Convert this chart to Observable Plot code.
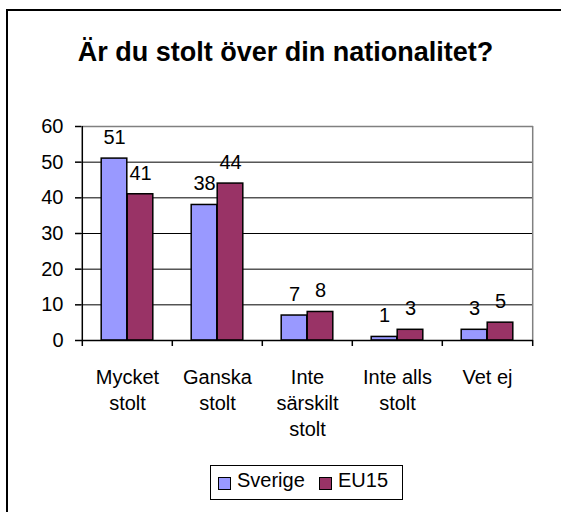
<!DOCTYPE html>
<html><head><meta charset="utf-8">
<script src="https://cdn.jsdelivr.net/npm/d3@7"></script>
<script src="https://cdn.jsdelivr.net/npm/@observablehq/plot@0.6"></script>
<style>
body{margin:0;background:#fff;font-family:"Liberation Sans",Arial,sans-serif;color:#000;}
#wrap{position:relative;width:561px;height:512px;overflow:hidden;background:#fff;}
#frame{position:absolute;left:6px;top:9px;width:700px;height:700px;border-top:2px solid #000;border-left:2px solid #000;}
#title{position:absolute;left:0;width:571px;top:37px;text-align:center;font-weight:bold;font-size:27px;line-height:30px;white-space:nowrap;}
#chart{position:absolute;left:0;top:0;}
#legend{position:absolute;left:210px;top:465px;width:193px;height:35px;border:1px solid #000;box-sizing:border-box;font-size:20px;background:#fff;}
#legend .sw{position:absolute;width:11px;height:11px;border:1px solid #000;top:11px;}
#legend .lb{position:absolute;top:4px;line-height:20px;white-space:nowrap;}
</style>
</head><body>
<div id="wrap">
  <div id="frame"></div>
  <div id="chart"></div>
  <div id="title">Är du stolt över din nationalitet?</div>
  <div id="legend"></div>
</div>
<script>
const categories = ["Mycket stolt", "Ganska stolt", "Inte särskilt stolt", "Inte alls stolt", "Vet ej"];
const tickLabels = ["Mycket\nstolt", "Ganska\nstolt", "Inte\nsärskilt\nstolt", "Inte alls\nstolt", "Vet ej"];
const series = ["Sverige", "EU15"];
const sverige = [51, 38, 7, 1, 3];
const eu15 = [41, 44, 8, 3, 5];
const colors = ["#9999FF", "#993366"];
const yTicks = [0, 10, 20, 30, 40, 50, 60];

const W = 561, H = 512, mL = 81, mR = 28, mT = 126, mB = 172;
const bw = (W - mL - mR) / categories.length;
const barW = 26, gap = (bw - 2 * barW) / 2;

const sv = categories.map((c, i) => ({cat: c, series: series[0], value: sverige[i]}));
const eu = categories.map((c, i) => ({cat: c, series: series[1], value: eu15[i]}));
const last = categories[categories.length - 1];

const chart = Plot.plot({
  width: W, height: H,
  marginLeft: mL, marginRight: mR, marginTop: mT, marginBottom: mB,
  style: {fontFamily: "Liberation Sans, Arial, sans-serif", fontSize: "20px", background: "transparent", color: "#000", overflow: "visible"},
  x: {domain: categories, padding: 0, label: null},
  y: {domain: [0, 60], label: null},
  color: {domain: series, range: colors},
  marks: [
    Plot.ruleY(yTicks.filter(t => t > 0 && t < 60), {stroke: "#000", strokeWidth: 1}),
    Plot.ruleY([60], {stroke: "#808080", strokeWidth: 1.5}),
    Plot.ruleX([last], {dx: bw / 2, stroke: "#808080", strokeWidth: 1.5}),
    Plot.barY(sv, {x: "cat", y: "value", fill: "series", stroke: "#000", strokeWidth: 1.5, insetLeft: gap, insetRight: gap + barW}),
    Plot.barY(eu, {x: "cat", y: "value", fill: "series", stroke: "#000", strokeWidth: 1.5, insetLeft: gap + barW, insetRight: gap}),
    Plot.text(sv, {x: "cat", y: "value", text: "value", dx: -barW / 2, dy: -21, fontSize: 20}),
    Plot.text(eu, {x: "cat", y: "value", text: "value", dx: barW / 2, dy: -21, fontSize: 20}),
    Plot.ruleY([0], {stroke: "#000", strokeWidth: 1.5}),
    Plot.ruleX(categories, {x: d => d, y1: 0, y2: 0, dx: -bw / 2, insetBottom: -6, stroke: "#000", strokeWidth: 1.5}),
    Plot.ruleX([last], {x: d => d, y1: 0, y2: 0, dx: bw / 2, insetBottom: -6, stroke: "#000", strokeWidth: 1.5}),
    Plot.ruleX([categories[0]], {x: d => d, dx: -bw / 2, stroke: "#000", strokeWidth: 1.5}),
    Plot.axisY({ticks: yTicks, tickSize: 6, tickPadding: 12, label: null, fontSize: 20, strokeWidth: 1.5}),
    Plot.axisX({tickSize: 0, tickPadding: 25, label: null, fontSize: 20, lineHeight: 1.3,
      tickFormat: d => tickLabels[categories.indexOf(d)]})
  ]
});
document.getElementById("chart").appendChild(chart);

const legend = document.getElementById("legend");
const pos = [{sw: 7, lb: 26}, {sw: 108, lb: 127}];
series.forEach((s, i) => {
  const sw = document.createElement("div");
  sw.className = "sw"; sw.style.left = pos[i].sw + "px"; sw.style.background = colors[i];
  const lb = document.createElement("div");
  lb.className = "lb"; lb.style.left = pos[i].lb + "px"; lb.textContent = s;
  legend.appendChild(sw); legend.appendChild(lb);
});
</script>
</body></html>
